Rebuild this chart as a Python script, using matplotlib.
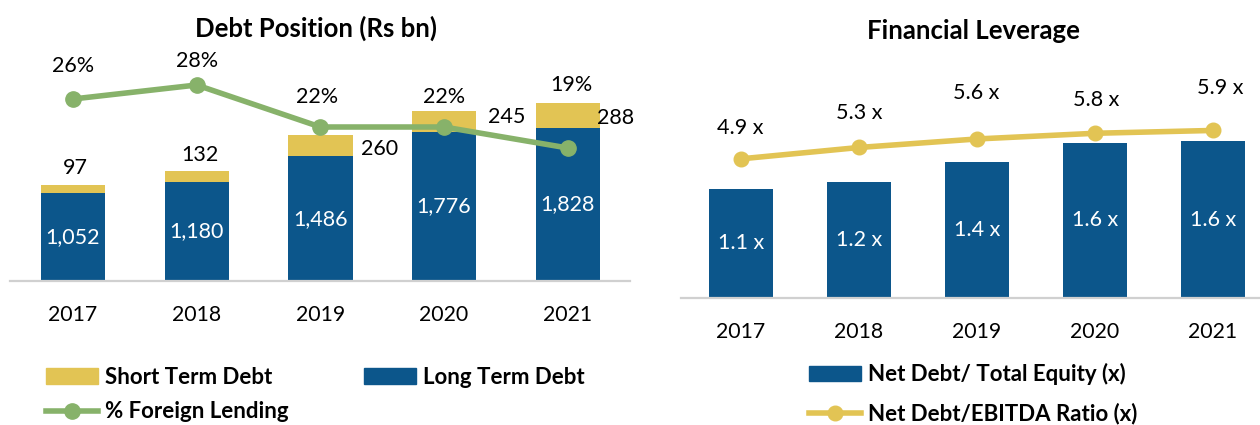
import numpy as np
import matplotlib
matplotlib.use("Agg")
from matplotlib import pyplot as plt
import matplotlib.patches as mpatches
from matplotlib.lines import Line2D

plt.rcParams['font.family'] = ['Lato', 'DejaVu Sans']

# data
years = ['2017', '2018', '2019', '2020', '2021']
long_debt = [1052, 1180, 1486, 1776, 1828]
short_debt = [97, 132, 260, 245, 288]
foreign_pct = [26, 28, 22, 22, 19]
net_debt_equity = [1.12, 1.19, 1.39, 1.59, 1.61]
equity_labels = ['1.1 x', '1.2 x', '1.4 x', '1.6 x', '1.6 x']
net_debt_ebitda = [4.9, 5.3, 5.6, 5.8, 5.9]

BLUE = '#0C568B'
GOLD = '#E2C454'
GREEN = '#87B26A'
AXIS = '#D0D0D0'

FS_TITLE = 18.5
FS_TICK = 15.3
FS_LAB = 15.5
FS_LEG = 16

W, H = 1260, 425
fig = plt.figure(figsize=(W / 100, H / 100), dpi=100)

def px_axes(left, top, right, bottom):
    return fig.add_axes([left / W, 1 - bottom / H, (right - left) / W, (bottom - top) / H])

def clean(ax):
    for s in ['top', 'left', 'right']:
        ax.spines[s].set_visible(False)
    ax.set_yticks([])

x = np.arange(len(years))

# ---------------- left: debt position
ax1 = px_axes(10, 45, 630, 281)
ax1.set_xlim(-0.509, 4.503)
ax1.set_ylim(0, 236 / 0.0839)
clean(ax1)
ax1.spines['bottom'].set_color(AXIS)
ax1.spines['bottom'].set_linewidth(1.6)
ax1.bar(x, long_debt, width=0.52, color=BLUE)
ax1.bar(x, short_debt, width=0.52, bottom=long_debt, color=GOLD)
ax1.set_xticks(x)
ax1.set_xticklabels(years, fontsize=FS_TICK)
ax1.tick_params(axis='x', length=0, pad=17)

for i in range(len(years)):
    ax1.text(x[i], long_debt[i] / 2, f'{long_debt[i]:,}', color='white',
             fontsize=FS_LAB, ha='center', va='center')

short_off = [(2, 17), (3, 16), (59, -14), (63, -6), (48, -15)]  # pixels
for i in range(len(years)):
    dx, dy = short_off[i]
    ax1.annotate(str(short_debt[i]), (x[i], long_debt[i] + short_debt[i]),
                 xytext=(dx * 0.72, dy * 0.72), textcoords='offset points',
                 fontsize=FS_LAB, ha='center', va='center')

ax1b = ax1.twinx()
ax1b.set_ylim(0, 236 / 7.0)
clean(ax1b)
ax1b.spines['bottom'].set_visible(False)
ax1b.plot(x, foreign_pct, color=GREEN, lw=4, marker='o', ms=11)
pct_off = [(0, 33), (0, 24), (-3, 30), (0, 30), (4, 63)]
for i in range(len(years)):
    dx, dy = pct_off[i]
    ax1b.annotate(f'{foreign_pct[i]}%', (x[i], foreign_pct[i]),
                  xytext=(dx * 0.72, dy * 0.72), textcoords='offset points',
                  fontsize=FS_LAB, ha='center', va='center')

fig.text(316 / W, 1 - 28 / H, 'Debt Position (Rs bn)', fontsize=FS_TITLE,
         fontweight='bold', ha='center', va='center')

h_short = mpatches.Patch(color=GOLD, label='Short Term Debt')
h_long = mpatches.Patch(color=BLUE, label='Long Term Debt')
h_for = Line2D([], [], color=GREEN, lw=4, marker='o', ms=11, label='% Foreign Lending')
fig.legend(handles=[h_short, h_for, h_long], ncol=2, loc='upper left',
           bbox_to_anchor=(46 / W, 1 - 367 / H), frameon=False, borderpad=0,
           handlelength=2.35, handletextpad=0.3, columnspacing=3.4,
           labelspacing=0.6, borderaxespad=0,
           prop={'size': FS_LEG, 'weight': 'bold'})

# ---------------- right: financial leverage
ax2 = px_axes(681, 60, 1260, 298)
ax2.set_xlim(-0.508, 4.398)
ax2.set_ylim(0, 238 / 97.5)
clean(ax2)
ax2.spines['bottom'].set_color(AXIS)
ax2.spines['bottom'].set_linewidth(1.6)
ax2.bar(x, net_debt_equity, width=0.54, color=BLUE)
ax2.set_xticks(x)
ax2.set_xticklabels(years, fontsize=FS_TICK)
ax2.tick_params(axis='x', length=0, pad=17)
for i in range(len(years)):
    ax2.text(x[i], net_debt_equity[i] / 2, equity_labels[i], color='white',
             fontsize=FS_LAB, ha='center', va='center')

ax2b = ax2.twinx()
ax2b.set_ylim(0, 238 / 28.4)
clean(ax2b)
ax2b.spines['bottom'].set_visible(False)
ax2b.plot(x, net_debt_ebitda, color=GOLD, lw=4, marker='o', ms=10.5)
ebitda_off = [(-1, 31), (0, 34), (-1, 46), (1, 33), (7, 42)]
for i in range(len(years)):
    dx, dy = ebitda_off[i]
    ax2b.annotate(f'{net_debt_ebitda[i]:.1f} x', (x[i], net_debt_ebitda[i]),
                  xytext=(dx * 0.72, dy * 0.72), textcoords='offset points',
                  fontsize=FS_LAB, ha='center', va='center')

fig.text(973 / W, 1 - 31 / H, 'Financial Leverage', fontsize=FS_TITLE,
         fontweight='bold', ha='center', va='center')

h_eq = mpatches.Patch(color=BLUE, label='Net Debt/ Total Equity (x)')
h_eb = Line2D([], [], color=GOLD, lw=4, marker='o', ms=10.5, label='Net Debt/EBITDA Ratio (x)')
fig.legend(handles=[h_eq, h_eb], ncol=1, loc='upper left',
           bbox_to_anchor=(809 / W, 1 - 363 / H), frameon=False, borderpad=0,
           handlelength=2.35, handletextpad=0.3, labelspacing=0.8, borderaxespad=0,
           prop={'size': FS_LEG, 'weight': 'bold'})

fig.savefig('out.png', dpi=100)
